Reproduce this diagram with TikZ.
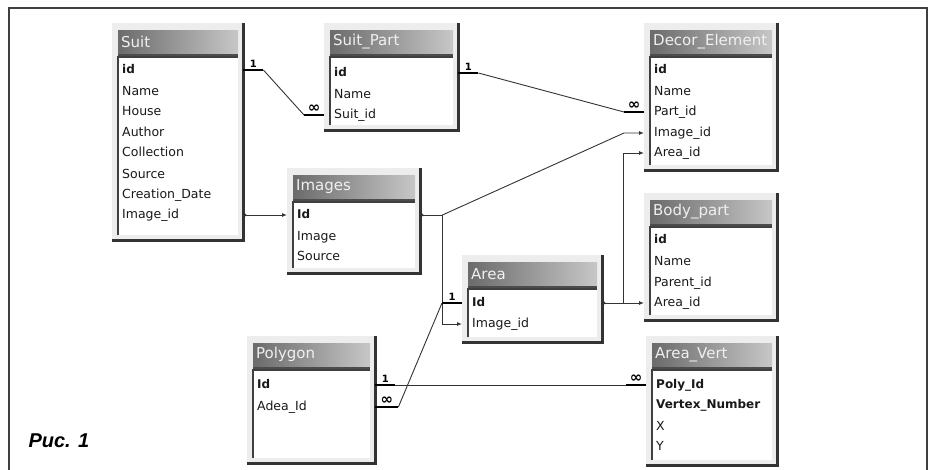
\documentclass[tikz,border=0pt]{standalone}
\usepackage{fontspec}
\setmainfont{DejaVu Sans}
\newfontfamily\capfont{Liberation Sans}
\usetikzlibrary{arrows.meta}

% #1 name, #2 left, #3 top, #4 width, #5 height, #6 title
\newcommand\dbtable[6]{%
  \node[frame, minimum width=#4+11, minimum height=#5+7] (#1) at ({#2-6},{#3-7}) {};
  \draw[rim] (#1.north east) -- (#1.south east) -- (#1.south west);
  \node[titlebar, minimum width=#4] (#1-title) at (#2,#3) {};
  \begin{scope}
    \clip (#1-title.south west) rectangle (#1-title.north east);
    \node[titletext] (#1-name) at ([xshift=3pt]#1-title.west) {#6};
  \end{scope}
  \draw[bar] ([yshift=-2pt]#1-title.south west) -- ([yshift=-2pt]#1-title.south east);
  \node[body, minimum width=#4, minimum height=#5-32] (#1-body) at (#2,{#3+27}) {};
  \draw[sunken] (#1-body.south west) -- (#1-body.north west) -- (#1-body.north east);
}

\begin{document}
\begin{tikzpicture}[x=1pt, y=-1pt]
	\tikzset{frame/.style={fill=black!7, anchor=north west, inner sep=0pt}}
	\tikzset{rim/.style={draw=black!80, line width=2.5pt}}
	\tikzset{titlebar/.style={left color=black!58, right color=black!22, anchor=north west, minimum height=23pt, inner sep=0pt}}
	\tikzset{titletext/.style={anchor=west, inner sep=0pt, text=black!6, font=\fontsize{15}{15}\selectfont}}
	\tikzset{bar/.style={draw=black!70, line width=2pt}}
	\tikzset{body/.style={fill=white, anchor=north west, inner sep=0pt}}
	\tikzset{sunken/.style={draw=black!75, line width=1.5pt}}
	\tikzset{field/.style={anchor=west, inner sep=0pt, text height=9pt, text depth=2.5pt, text=black!90, font=\fontsize{12.5}{14}\selectfont}}
	\tikzset{key/.style={field, font=\fontsize{12}{14}\selectfont\bfseries}}
	\tikzset{rel/.style={draw=black!80, line width=0.9pt}}
	\tikzset{card/.style={draw=black, line width=2.8pt}}
	\tikzset{cardlabel/.style={above, inner sep=1.5pt, font=\fontsize{10}{10}\selectfont\bfseries}}
	\tikzset{manylabel/.style={above, inner sep=1pt, font=\fontsize{15}{15}\selectfont\bfseries}}
	\tikzset{tip/.style={rel, -{Latex[length=5pt, width=4pt]}}}
	\tikzset{dot/.style={rel, {Circle[length=3pt]}-}}
	\tikzset{ref/.style={rel, {Circle[length=3pt]}-{Latex[length=5pt, width=4pt]}}}

	\useasboundingbox (0,0) rectangle (930,470);
	\draw[black!75, line width=1.5pt] (9,470) -- (9,8) -- (927,8) -- (927,470);

	\dbtable{suit}{118}{30}{120}{210}{Suit}
	\node[key] (suit-id) at (122,70) {id};
	\node[field] (suit-name) at (122,92) {Name};
	\node[field] (suit-house) at (122,112) {House};
	\node[field] (suit-author) at (122,133) {Author};
	\node[field] (suit-collection) at (122,153) {Collection};
	\node[field] (suit-source) at (122,175) {Source};
	\node[field] (suit-date) at (122,195) {Creation\_Date};
	\node[field] (suit-imageid) at (122,215) {Image\_id};

	\dbtable{sp}{330}{30}{123}{100}{Suit\_Part}
	\node[key] (sp-id) at (334,73) {id};
	\node[field] (sp-name) at (334,95) {Name};
	\node[field] (sp-suitid) at (334,115) {Suit\_id};

	\dbtable{decor}{650}{30}{122}{140}{Decor\_Element}
	\node[key] (decor-id) at (654,70) {id};
	\node[field] (decor-name) at (654,92) {Name};
	\node[field] (decor-partid) at (654,112) {Part\_id};
	\node[field] (decor-imageid) at (654,133) {Image\_id};
	\node[field] (decor-areaid) at (654,153) {Area\_id};

	\dbtable{images}{293}{175}{122}{98}{Images}
	\node[key] (images-id) at (297,215) {Id};
	\node[field] (images-image) at (297,237) {Image};
	\node[field] (images-source) at (297,257) {Source};

	\dbtable{area}{468}{262}{129}{80}{Area}
	\node[key] (area-id) at (472,303) {Id};
	\node[field] (area-imageid) at (472,324) {Image\_id};

	\dbtable{bodypart}{650}{200}{122}{120}{Body\_part}
	\node[key] (bodypart-id) at (654,240) {id};
	\node[field] (bodypart-name) at (654,262) {Name};
	\node[field] (bodypart-parentid) at (654,283) {Parent\_id};
	\node[field] (bodypart-areaid) at (654,303) {Area\_id};

	\dbtable{polygon}{253}{343}{117}{120}{Polygon}
	\node[key] (polygon-id) at (257,385) {Id};
	\node[field] (polygon-adeaid) at (257,407) {Adea\_Id};

	\dbtable{areavert}{652}{343}{120}{122}{Area\_Vert}
	\node[key] (areavert-polyid) at (656,385) {Poly\_Id};
	\node[key] (areavert-vertex) at (656,405) {Vertex\_Number};
	\node[field] (areavert-x) at (656,427) {X};
	\node[field] (areavert-y) at (656,447) {Y};

	\draw[card] (suit.east |- suit-id) -- node[cardlabel] (r1-one) {1} ++(20,0) coordinate (r1a);
	\draw[card] (sp.west |- sp-suitid) -- node[manylabel] (r1-many) {∞} ++(-20,0) coordinate (r1b);
	\draw[rel] (r1a) -- (r1b);

	\draw[card] (sp.east |- sp-id) -- node[cardlabel] (r2-one) {1} ++(20,0) coordinate (r2a);
	\draw[card] (decor.west |- decor-partid) -- node[manylabel] (r2-many) {∞} ++(-20,0) coordinate (r2b);
	\draw[rel] (r2a) -- (r2b);

	\draw[ref] (suit.east |- suit-imageid) -- (images.west |- images-id);

	\draw[dot] (images.east |- images-id) -- ++(22,0) coordinate (imgj);
	\draw[tip] (imgj) -- ([xshift=-20pt]decor.west |- decor-imageid) -- (decor.west |- decor-imageid);
	\draw[tip] (imgj) |- (area.west |- area-imageid);

	\draw[card] (area.west |- area-id) -- node[cardlabel] (r5-one) {1} ++(-20,0) coordinate (r5a);
	\draw[card] (polygon.east |- polygon-adeaid) -- node[manylabel] (r5-many) {∞} ++(23,0) coordinate (r5b);
	\draw[rel] (r5a) -- (r5b);

	\draw[card] (polygon.east |- polygon-id) -- node[cardlabel] (r6-one) {1} ++(20,0) coordinate (r6a);
	\draw[card] (areavert.west |- areavert-polyid) -- node[manylabel] (r6-many) {∞} ++(-20,0) coordinate (r6b);
	\draw[rel] (r6a) -- (r6b);

	\draw[dot] (area.east |- area-id) -- ++(21,0) coordinate (areaj);
	\draw[tip] (areaj) -- (bodypart.west |- bodypart-areaid);
	\draw[tip] (areaj) |- (decor.west |- decor-areaid);

	\node[anchor=base west, font=\capfont\bfseries\itshape\fontsize{20}{20}\selectfont] (caption) at (25,448) {Рис. 1};
\end{tikzpicture}
\end{document}
